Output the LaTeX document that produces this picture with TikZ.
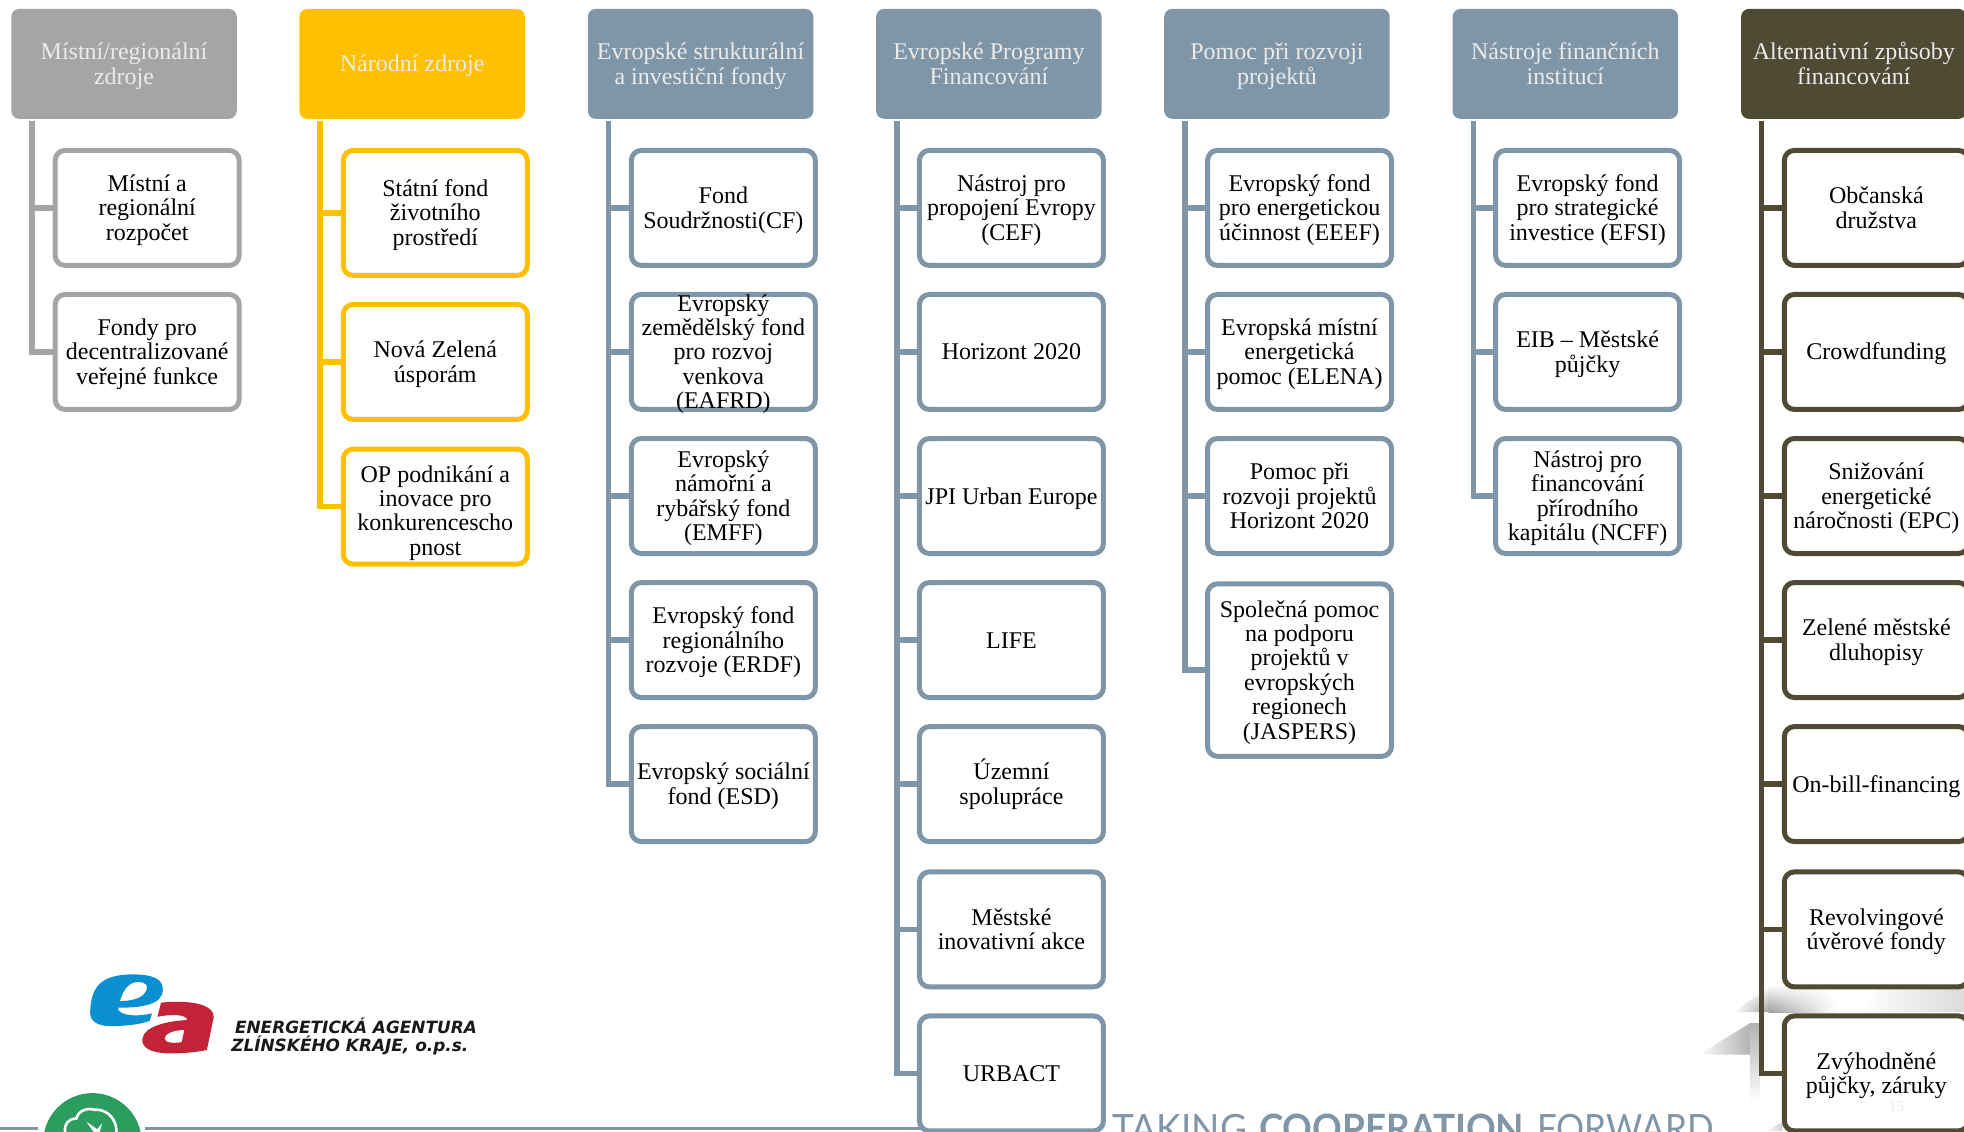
\documentclass[tikz,border=0pt]{standalone}
\usepackage{fontspec}
\setmainfont{Liberation Serif}
\newfontfamily\logofont{DejaVu Sans}
\newfontfamily\ctafont{Lato}
\definecolor{cgray}{HTML}{A5A5A5}
\definecolor{cgold}{HTML}{FFC000}
\definecolor{cblue}{HTML}{7F96A8}
\definecolor{cdark}{HTML}{4F4A33}
\definecolor{cgreen}{HTML}{2A9D5F}
\definecolor{ebl}{HTML}{0A90D0}
\definecolor{ared}{HTML}{C22338}
\usetikzlibrary{calc,fadings}
\newcommand{\tstr}{\rule{0pt}{22pt}}
\tikzset{
  header/.style={rectangle,rounded corners=8pt,draw=none,fill=#1,text=white!92!black,
    minimum width=225.5pt,minimum height=110pt,inner sep=0pt,outer sep=0pt,align=center,
    font=\fontsize{24}{24.4}\selectfont,
    execute at begin node=\tstr,execute at end node=\rule[-6pt]{0pt}{6pt}},
  child/.style={rectangle,rounded corners=10pt,draw=#1,line width=5pt,fill=white,text=black,
    minimum width=184pt,minimum height=115pt,inner sep=0pt,outer sep=0pt,align=center,
    font=\fontsize{24}{24.4}\selectfont,
    execute at begin node=\tstr,execute at end node=\rule[-6pt]{0pt}{6pt}},
  overtext/.style={inner sep=0pt,outer sep=0pt,align=center,text=black,
    font=\fontsize{24}{24.4}\selectfont,
    execute at begin node=\tstr,execute at end node=\rule[-6pt]{0pt}{6pt}},
  trunk/.style={draw=#1,line width=5.5pt,line join=miter,line cap=butt},
  logotext/.style={anchor=west,inner sep=0pt,text=black!90,
    font=\logofont\bfseries\itshape\fontsize{16.9}{17}\selectfont},
  x=1.2526pt,y=-1.2526pt
}
\begin{document}
\begin{tikzpicture}
\useasboundingbox (0,0) rectangle (1568,903.7);
% watermark shadows
\shade[left color=white,right color=black!38,path fading=north] (1384,808)--(1412,788)--(1412,808)--cycle;
\shade[left color=black!38,right color=white,path fading=north] (1412,786)--(1466,786)--(1466,808)--(1412,808)--cycle;
\shade[left color=white,right color=black!14] (1485,808)--(1500,789)--(1568,789)--(1568,808)--cycle;
\shade[left color=white,right color=black!30] (1356,842)--(1397,817)--(1397,842)--cycle;
\shade[top color=black!30,bottom color=white] (1397,817)--(1405,817)--(1405,880)--(1397,880)--cycle;
\shade[left color=white,right color=black!18] (1409,903)--(1423,896)--(1423,903)--cycle;
% footer line and emblem
\coordinate (la) at (0,901); \coordinate (lb) at (30.5,901);
\coordinate (lc) at (116,901); \coordinate (ld) at (735,901);
\draw[cblue,line width=2.6pt] (la)--(lb) (lc)--(ld);
\node[circle,fill=cgreen,minimum size=98.5pt,inner sep=0pt] (emblem) at (73.8,912) {};
\draw[white,line width=2.6pt] (52,904) .. controls (51,897) and (55,893) .. (61,893) .. controls (62,887) and (70,884) .. (75,886) .. controls (82,885) and (93,890) .. (93,904);
\fill[white] (69,895.5) -- (75,904) -- (79.5,904) -- (81.5,897) -- (77.5,901.5) -- cycle;
% logo
\begin{scope}[shift={(0,750)},xscale=0.2857,yscale=0.266]
\fill[ebl,even odd rule] (252,215) .. controls (255,150) and (275,105) .. (370,105) .. controls (430,105) and (455,120) .. (455,150) .. controls (455,195) and (400,205) .. (330,205) .. controls (328,225) and (370,235) .. (425,222) -- (418,245) .. controls (380,258) and (340,260) .. (310,260) .. controls (270,260) and (250,245) .. (252,215) -- cycle
 (335,185) .. controls (345,150) and (360,128) .. (385,128) .. controls (410,128) and (415,140) .. (408,155) .. controls (398,178) and (365,185) .. (335,185) -- cycle;
\fill[ared,even odd rule] (450,190) .. controls (500,183) and (600,185) .. (597,235) -- (578,332) .. controls (540,340) and (500,343) .. (470,342) .. controls (420,340) and (395,325) .. (398,298) .. controls (402,260) and (470,245) .. (522,242) .. controls (525,228) and (490,222) .. (440,232) -- cycle
 (515,272) .. controls (480,272) and (460,285) .. (460,298) .. controls (460,312) and (490,312) .. (508,308) -- cycle;
\end{scope}
\node[logotext] (logo1) at (187.5,819) {ENERGETICKÁ AGENTURA};
\node[logotext] (logo2) at (184.5,835) {ZLÍNSKÉHO KRAJE, o.p.s.};
% slogan
\node[anchor=base west,inner sep=0pt,text=cblue,font=\ctafont\fontsize{39}{39}\selectfont] (cta1) at (888,912) {\scalebox{.95}[1]{TAKING}};
\node[anchor=base west,inner sep=0pt,text=cblue,font=\ctafont\bfseries\fontsize{39}{39}\selectfont] (cta2) at (1005,912) {\scalebox{.945}[1]{COOPERATION}};
\node[anchor=base west,inner sep=0pt,text=cblue,font=\ctafont\fontsize{39}{39}\selectfont] (cta3) at (1227,912) {\scalebox{.9}[1]{FORWARD}};
% headers
\node[header=cgray] (h1) at (99,51) {\tstr Místní/regionální\\zdroje};
\node[header=cgold] (h2) at (329,51) {Národní zdroje};
\node[header=cblue] (h3) at (559.3,51) {\tstr Evropské strukturální\\a investiční fondy};
\node[header=cblue] (h4) at (789.5,51) {\tstr Evropské Programy\\Financování};
\node[header=cblue] (h5) at (1019.5,51) {\tstr Pomoc při rozvoji\\projektů};
\node[header=cblue] (h6) at (1249.7,51) {\tstr Nástroje finančních\\institucí};
\node[header=cdark] (h7) at (1480,51) {\tstr Alternativní způsoby\\financování};
% trunk tops
\coordinate (t1) at (25.5,97); \coordinate (t2) at (255.5,97); \coordinate (t3) at (486,97);
\coordinate (t4) at (716,97); \coordinate (t5) at (946,97); \coordinate (t6) at (1176.5,97);
\coordinate (t7) at (1406.5,97);
% column 1
\node[child=cgray] (a1) at (117.5,166) {\tstr Místní a\\regionální\\rozpočet};
\node[child=cgray] (a2) at (117.5,281) {\tstr Fondy pro\\decentralizované\\veřejné funkce};
% column 2
\node[child=cgold,minimum height=125pt] (b1) at (347.5,170) {\tstr Státní fond\\životního\\prostředí};
\node[child=cgold] (b2) at (347.5,289) {\tstr Nová Zelená\\úsporám};
\node[child=cgold,execute at end node={}] (b3) at (347.5,404.5) {\rule{0pt}{30pt}OP podnikání a\\inovace pro\\konkurencescho\\pnost\rule[-6pt]{0pt}{6pt}};
% column 3
\node[child=cblue] (c1) at (577.5,166) {\tstr Fond\\Soudržnosti(CF)};
\node[child=cblue,execute at begin node={},execute at end node={}] (c2) at (577.5,281) {};
\node[overtext] (c2text) at (c2.center) {\tstr Evropský\\zemědělský fond\\pro rozvoj\\venkova\\(EAFRD)};
\node[child=cblue] (c3) at (577.5,396) {\tstr Evropský\\námořní a\\rybářský fond\\(EMFF)};
\node[child=cblue] (c4) at (577.5,511) {\tstr Evropský fond\\regionálního\\rozvoje (ERDF)};
\node[child=cblue] (c5) at (577.5,626) {\tstr Evropský sociální\\fond (ESD)};
% column 4
\node[child=cblue] (d1) at (807.5,166) {\tstr Nástroj pro\\propojení Evropy\\(CEF)};
\node[child=cblue] (d2) at (807.5,281) {Horizont 2020};
\node[child=cblue] (d3) at (807.5,396) {JPI Urban Europe};
\node[child=cblue] (d4) at (807.5,511) {LIFE};
\node[child=cblue] (d5) at (807.5,626) {\tstr Územní\\spolupráce};
\node[child=cblue] (d6) at (807.5,742) {\tstr Městské\\inovativní akce};
\node[child=cblue] (d7) at (807.5,857) {URBACT};
% column 5
\node[child=cblue] (e1) at (1037.5,166) {\tstr Evropský fond\\pro energetickou\\účinnost (EEEF)};
\node[child=cblue] (e2) at (1037.5,281) {\tstr Evropská místní\\energetická\\pomoc (ELENA)};
\node[child=cblue] (e3) at (1037.5,396) {\tstr Pomoc při\\rozvoji projektů\\Horizont 2020};
\node[child=cblue,minimum height=172.5pt] (e4) at (1037.5,535) {\tstr Společná pomoc\\na podporu\\projektů v\\evropských\\regionech\\(JASPERS)};
% column 6
\node[child=cblue] (f1) at (1267.5,166) {\tstr Evropský fond\\pro strategické\\investice (EFSI)};
\node[child=cblue] (f2) at (1267.5,281) {\tstr EIB – Městské\\půjčky};
\node[child=cblue] (f3) at (1267.5,396) {\tstr Nástroj pro\\financování\\přírodního\\kapitálu (NCFF)};
% column 7
\node[child=cdark] (g1) at (1498,166) {\tstr Občanská\\družstva};
\node[child=cdark] (g2) at (1498,281) {Crowdfunding};
\node[child=cdark] (g3) at (1498,396) {\tstr Snižování\\energetické\\náročnosti (EPC)};
\node[child=cdark] (g4) at (1498,511) {\tstr Zelené městské\\dluhopisy};
\node[child=cdark] (g5) at (1498,626) {On-bill-financing};
\node[child=cdark] (g6) at (1498,742) {\tstr Revolvingové\\úvěrové fondy};
\node[child=cdark,path picture={\node[text=black!9,font=\fontsize{15}{15}\selectfont,execute at begin node={},execute at end node={}] (pageno) at ([shift={(16,24)}]path picture bounding box.center) {15};}] (g7) at (1498,857) {\tstr Zvýhodněné\\půjčky, záruky};
% connectors
\draw[trunk=cgray] (t1) -- (t1 |- a2.west) -- (a2.west) (t1 |- a1.west) -- (a1.west);
\draw[trunk=cgold] (t2) -- (t2 |- b3.west) -- (b3.west) (t2 |- b1.west) -- (b1.west) (t2 |- b2.west) -- (b2.west);
\draw[trunk=cblue] (t3) -- (t3 |- c5.west) -- (c5.west) (t3 |- c1.west) -- (c1.west) (t3 |- c2.west) -- (c2.west) (t3 |- c3.west) -- (c3.west) (t3 |- c4.west) -- (c4.west);
\draw[trunk=cblue] (t4) -- (t4 |- d7.west) -- (d7.west) (t4 |- d1.west) -- (d1.west) (t4 |- d2.west) -- (d2.west) (t4 |- d3.west) -- (d3.west) (t4 |- d4.west) -- (d4.west) (t4 |- d5.west) -- (d5.west) (t4 |- d6.west) -- (d6.west);
\draw[trunk=cblue] (t5) -- (t5 |- e4.west) -- (e4.west) (t5 |- e1.west) -- (e1.west) (t5 |- e2.west) -- (e2.west) (t5 |- e3.west) -- (e3.west);
\draw[trunk=cblue] (t6) -- (t6 |- f3.west) -- (f3.west) (t6 |- f1.west) -- (f1.west) (t6 |- f2.west) -- (f2.west);
\draw[trunk=cdark] (t7) -- (t7 |- g7.west) -- (g7.west) (t7 |- g1.west) -- (g1.west) (t7 |- g2.west) -- (g2.west) (t7 |- g3.west) -- (g3.west) (t7 |- g4.west) -- (g4.west) (t7 |- g5.west) -- (g5.west) (t7 |- g6.west) -- (g6.west);
\end{tikzpicture}
\end{document}
